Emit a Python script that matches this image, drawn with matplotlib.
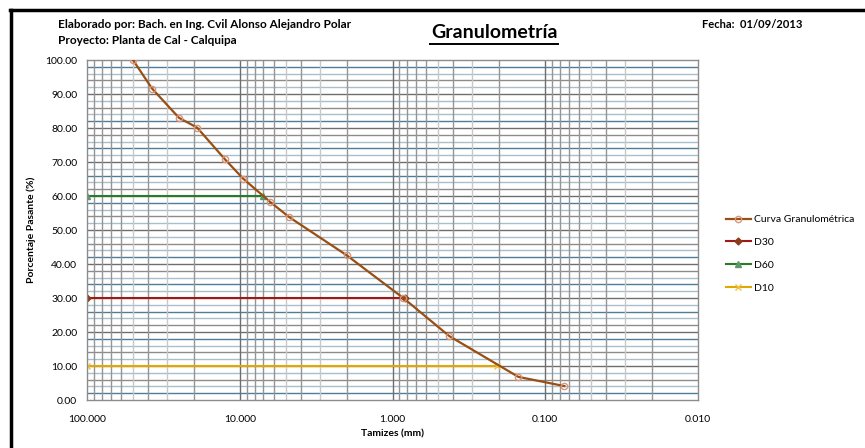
import matplotlib
matplotlib.use('Agg')
import matplotlib.pyplot as plt
from matplotlib.ticker import FixedLocator, NullFormatter

plt.rcParams['font.family'] = ['Lato', 'DejaVu Sans']

# curva granulometrica: abertura del tamiz (mm) y porcentaje pasante
tamiz_mm = [50.0, 37.5, 25.0, 19.0, 12.5, 9.5, 6.3, 4.75, 2.0, 0.85, 0.425, 0.15, 0.075]
pasante = [100.0, 91.6, 83.0, 80.1, 70.8, 65.1, 58.2, 53.8, 42.6, 30.0, 18.8, 6.8, 4.1]

# diametros caracteristicos
d60 = 7.0
d30 = 0.83
d10 = 0.208

x_ticks = [100, 10, 1, 0.1, 0.01]
x_labels = ['100.000', '10.000', '1.000', '0.100', '0.010']
y_ticks = list(range(0, 101, 10))

fig = plt.figure(figsize=(8.65, 4.48), dpi=100)
ax = fig.add_axes([87 / 865, 1 - 400 / 448, 611 / 865, 340 / 448])

ax.set_xscale('log')
ax.set_xlim(100, 0.01)
ax.set_ylim(0, 100)

# rejilla horizontal cada 2 %
colores_h = ['#4d7d99', '#a9bfcc', '#8c8c8c', '#a9bfcc']
for i, v in enumerate(range(2, 100, 2)):
    if v % 10 == 0:
        ax.axhline(v, color='#6e6e6e', lw=1.0, zorder=0)
    else:
        ax.axhline(v, color=colores_h[i % 4], lw=1.0, zorder=0)

# rejilla vertical logaritmica
for dec in [0.01, 0.1, 1, 10]:
    for m in range(2, 10):
        c = '#c8c8c8' if m in (5, 3) else '#959595'
        ax.axvline(dec * m, color=c, lw=1.0, zorder=0)
for dec in [0.1, 1, 10]:
    ax.axvline(dec, color='#6e6e6e', lw=1.0, zorder=0)

ax.plot(tamiz_mm, pasante, color='#9a4f12', lw=1.6, marker='o', ms=4.5,
        mfc='none', mec='#d9967a', mew=1.0, label='Curva Granulométrica', zorder=3)
ax.plot([100, d30], [30, 30], color='#a01818', lw=1.5, marker='D', ms=3.5,
        mfc='#8b3a1a', mec='#8b3a1a', label='D30', zorder=2)
ax.plot([100, d60], [60, 60], color='#2a7a2a', lw=1.5, marker='^', ms=5,
        mfc='#5a9a6a', mec='#5a9a6a', label='D60', zorder=2)
ax.plot([100, d10], [10, 10], color='#e0a800', lw=1.5, marker='x', ms=5,
        mec='#f0c040', label='D10', zorder=2)

ax.xaxis.set_major_locator(FixedLocator(x_ticks))
ax.set_xticklabels(x_labels)
ax.xaxis.set_minor_formatter(NullFormatter())
ax.set_yticks(y_ticks)
ax.set_yticklabels(['%.2f' % v for v in y_ticks])
ax.tick_params(axis='both', which='both', length=0, labelsize=7.5, pad=7)
ax.tick_params(axis='x', pad=11)
for s in ax.spines.values():
    s.set_color('#8c8c8c')
    s.set_linewidth(1.0)

ax.set_xlabel('Tamizes (mm)', fontsize=7.5, fontweight='bold', labelpad=4)
ax.set_ylabel('Porcentaje Pasante (%)', fontsize=7.5, fontweight='bold', labelpad=7)

ax.legend(loc='center left', bbox_to_anchor=(1.03, 0.43), frameon=False,
          fontsize=7.5, handlelength=2.4, labelspacing=1.3, handletextpad=0.3)

fig.text(58 / 865, 1 - 24 / 448, 'Elaborado por: Bach. en Ing. Cvil Alonso Alejandro Polar',
         fontsize=8.5, fontweight='bold', va='center')
fig.text(58 / 865, 1 - 41 / 448, 'Proyecto: Planta de Cal - Calquipa',
         fontsize=8.5, fontweight='bold', va='center')
fig.text(494 / 865, 1 - 32 / 448, 'Granulometría', fontsize=14,
         fontweight='bold', va='center', ha='center')
fig.add_artist(plt.Line2D([430 / 865, 558 / 865], [1 - 44 / 448, 1 - 44 / 448],
                          color='black', lw=1.4))
fig.text(702 / 865, 1 - 24 / 448, 'Fecha:  01/09/2013', fontsize=8,
         fontweight='bold', va='center')

# marco exterior: solo borde superior e izquierdo
fig.add_artist(plt.Line2D([10 / 865, 1], [1 - 10 / 448, 1 - 10 / 448],
                          color='black', lw=2.5))
fig.add_artist(plt.Line2D([11 / 865, 11 / 865], [1 - 10 / 448, 0],
                          color='black', lw=2.5))

fig.savefig('out.png', dpi=100)
